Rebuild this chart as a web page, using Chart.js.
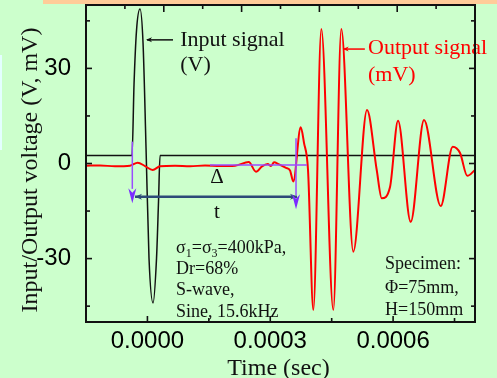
<!DOCTYPE html>
<html>
<head>
<meta charset="utf-8">
<script src="https://cdn.jsdelivr.net/npm/chart.js@4.4.1/dist/chart.umd.min.js"></script>
<style>
html, body { margin: 0; padding: 0; background: #ccffcc; }
</style>
</head>
<body>
<canvas id="sig" width="497" height="378"></canvas>
<script>
// input signal (V), time in sec
var inputTime = [-0.00015, -0.0000376, -0.0000327, -0.0000266, -0.0000181, -0.0000107, -0.0000034,
                 0.0000039, 0.0000137, 0.0000222, 0.0000271, 0.0000308, 0.0008];
var inputVolt = [2.5, 2.5, 25, 42, 48.7, 38, 5, -30, -44, -30, -12, 2.5, 2.5];

// output signal (mV)
var outputTime = [-0.00015, -0.0001158, -0.0000791, -0.0000425, -0.0000237, -0.0000059, 0.0000129,
                  0.0000308, 0.0000674, 0.000104, 0.0001407, 0.0001773, 0.0002139, 0.0002474,
                  0.0002652, 0.0002799, 0.0002938, 0.0003018, 0.0003092, 0.0003214, 0.0003385,
                  0.0003483, 0.0003563, 0.0003744, 0.0003824, 0.0003922, 0.0004052, 0.0004247,
                  0.000454, 0.0004735, 0.0005028, 0.0005363, 0.00056, 0.0005722, 0.0005925,
                  0.000612, 0.000643, 0.0006755, 0.0007163, 0.0007456, 0.0007635, 0.0007812, 0.0008];
var outputVolt = [-0.7, -0.6, -0.9, -0.7, 0.25, -0.8, -2.05,
                  -0.9, -0.7, -0.9, -0.6, -0.8, -0.7, 0.47,
                  -2.6, -0.9, -0.16, -0.8, 0.4, -0.3, -1.4,
                  -2.2, -5.7, 11.4, 6.5, -2, -46.2, 42.4,
                  -46.2, 42.4, -27.8, 16.9, -2.05, -11, -7.4,
                  13.5, -18.4, 13.7, -13.4, 5.3, 3.3, -3.9, -2.05];

// ticks
var xTickVals = [0, 0.00015, 0.0003, 0.00045, 0.0006, 0.00075];
var xTickText = ['0.0000', '', '0.0003', '', '0.0006', ''];
var yTickVals = [-45, -30, -15, 0, 15, 30, 45];
var yTickText = ['', '-30', '', '0', '', '30', ''];
var topTickVals = [1, 2, 3, 4, 5, 6, 7, 8, 9];

function pairs(xs, ys) {
  return xs.map(function (x, i) { return { x: x, y: ys[i] }; });
}

function line(c, x1, y1, x2, y2) {
  c.beginPath(); c.moveTo(x1, y1); c.lineTo(x2, y2); c.stroke();
}

function head(c, x, y, dx, dy, len, half) {
  // tip at x,y pointing along dx,dy
  c.beginPath();
  c.moveTo(x, y);
  c.lineTo(x - dx * len - dy * half, y - dy * len + dx * half);
  c.lineTo(x - dx * len * 0.7, y - dy * len * 0.7);
  c.lineTo(x - dx * len + dy * half, y - dy * len - dx * half);
  c.closePath();
  c.fill();
}

function rich(c, x, y, parts, size) {
  parts.forEach(function (p) {
    if (p[1]) {
      c.font = Math.round(size * 0.65) + 'px "Liberation Serif"';
      c.fillText(p[0], x, y + 4);
    } else {
      c.font = size + 'px "Liberation Serif"';
      c.fillText(p[0], x, y);
    }
    x += c.measureText(p[0]).width;
  });
}

function noPad(s) {
  s.paddingTop = 0; s.paddingBottom = 0; s.paddingLeft = 0; s.paddingRight = 0;
}

var frame = {
  id: 'frame',
  beforeDraw: function (chart) {
    var c = chart.ctx;
    c.save();
    c.fillStyle = '#ccffcc';
    c.fillRect(0, 0, chart.width, chart.height);
    c.fillStyle = '#ffcc99';
    c.fillRect(43, 0, chart.width - 43, 4);
    c.fillStyle = '#e4ffff';
    c.fillRect(0, 55, 2, 95);
    c.restore();
  },
  afterDatasetsDraw: function (chart) {
    var c = chart.ctx, a = chart.chartArea;
    var sx = chart.scales.x, sy = chart.scales.y, st = chart.scales.x2;
    function X(t) { return sx.getPixelForValue(t); }
    function Y(v) { return sy.getPixelForValue(v); }
    c.save();

    // time delay markers
    c.strokeStyle = '#2d4b78'; c.fillStyle = '#2d4b78'; c.lineWidth = 2.5;
    line(c, X(-0.0000303), Y(-10.5), X(0.0003653), Y(-10.5));
    head(c, X(-0.0000303), Y(-10.5), -1, 0, 7, 3);
    head(c, X(0.0003653), Y(-10.5), 1, 0, 7, 3);

    c.strokeStyle = '#9a4dff'; c.fillStyle = '#7b2cff'; c.lineWidth = 1.5;
    line(c, X(0.0001529), Y(-0.5), X(0.0003895), Y(-0.5));
    line(c, X(-0.0000369), Y(6.9), X(-0.0000369), Y(-8));
    head(c, X(-0.0000369), Y(-12.5), 0, 1, 15, 4);
    line(c, X(0.0003629), Y(8), X(0.0003629), Y(-10));
    head(c, X(0.0003629), Y(-14.4), 0, 1, 15, 4);

    c.fillStyle = '#111';
    c.textAlign = 'center'; c.textBaseline = 'alphabetic';
    c.font = '21px "Liberation Serif"';
    c.fillText('\u0394', X(0.0001699), Y(-6.0));
    c.fillText('t', X(0.0001699), Y(-17.2));

    // signal labels
    c.textAlign = 'left';
    c.strokeStyle = '#111'; c.fillStyle = '#111'; c.lineWidth = 1.5;
    line(c, X(0.0000625), Y(39), X(-0.000001), Y(39));
    head(c, X(-0.0000034), Y(39), -1, 0, 6, 2.5);
    c.font = '22px "Liberation Serif"';
    c.fillText('Input signal', X(0.00008), Y(37.1));
    c.fillText('(V)', X(0.00008), Y(29.1));

    c.strokeStyle = '#ff0000'; c.fillStyle = '#ff0000';
    line(c, X(0.000531), Y(36.1), X(0.00048), Y(36.1));
    head(c, X(0.000477), Y(36.1), -1, 0, 6, 2.5);
    c.fillText('Output signal', X(0.0005387), Y(34.5));
    c.fillText('(mV)', X(0.0005387), Y(26.0));

    // test conditions
    c.fillStyle = '#111';
    rich(c, X(0.0000699), Y(-28.2), [['\u03c3', 0], ['1', 1], ['=\u03c3', 0], ['3', 1], ['=400kPa,', 0]], 18);
    c.font = '18px "Liberation Serif"';
    c.fillText('Dr=68%', X(0.0000699), Y(-34.9));
    c.fillText('S-wave,', X(0.0000699), Y(-41.5));
    c.fillText('Sine, 15.6kHz', X(0.0000699), Y(-48.4));
    c.fillText('Specimen:', X(0.0005802), Y(-33.3));
    c.fillText('\u03a6=75mm,', X(0.0005802), Y(-40.9));
    c.fillText('H=150mm', X(0.0005802), Y(-47.8));

    // inward ticks
    c.strokeStyle = '#111'; c.lineWidth = 1.6;
    sx.ticks.forEach(function (t) {
      var p = X(t.value), len = t.label ? 6 : 4;
      line(c, p, a.bottom, p, a.bottom - len);
    });
    sy.ticks.forEach(function (t) {
      var p = Y(t.value), len = t.label ? 6 : 4;
      line(c, a.left, p, a.left + len, p);
      line(c, a.right, p, a.right - len, p);
    });
    st.ticks.forEach(function (t) {
      var p = st.getPixelForValue(t.value), len = t.value % 2 === 0 ? 7 : 4;
      line(c, p, a.top, p, a.top + len);
    });

    // frame
    c.lineWidth = 2;
    c.strokeRect(a.left, a.top, a.right - a.left, a.bottom - a.top);

    // axis titles
    c.fillStyle = '#111';
    c.font = '24px "Liberation Serif"';
    c.textAlign = 'center'; c.textBaseline = 'alphabetic';
    c.fillText('Time (sec)', (a.left + a.right) / 2 - 2, 375);
    c.translate(37, 170);
    c.rotate(-Math.PI / 2);
    c.fillText('Input/Output voltage (V, mV)', 0, 0);
    c.restore();
  }
};

new Chart(document.getElementById('sig'), {
  type: 'line',
  data: {
    datasets: [
      {
        label: 'Output signal (mV)',
        data: pairs(outputTime, outputVolt),
        xAxisID: 'x', yAxisID: 'y',
        borderColor: '#ff0000', borderWidth: 2,
        pointRadius: 0, fill: false,
        cubicInterpolationMode: 'monotone'
      },
      {
        label: 'Input signal (V)',
        data: pairs(inputTime, inputVolt),
        xAxisID: 'x', yAxisID: 'y',
        borderColor: '#111', borderWidth: 1.5,
        pointRadius: 0, fill: false,
        cubicInterpolationMode: 'monotone'
      }
    ]
  },
  options: {
    responsive: false,
    animation: false,
    devicePixelRatio: 1,
    layout: { padding: { top: 5, right: 22, left: 0, bottom: 0 } },
    plugins: { legend: { display: false }, tooltip: { enabled: false } },
    scales: {
      x: {
        type: 'linear', position: 'bottom',
        min: -0.00015, max: 0.0008,
        afterBuildTicks: function (s) { s.ticks = xTickVals.map(function (v) { return { value: v }; }); },
        afterFit: function (s) { s.height = 56; noPad(s); },
        grid: { display: false }, border: { display: false },
        ticks: {
          autoSkip: false, maxRotation: 0, padding: -3, color: '#000',
          font: { family: 'Liberation Sans', size: 24 },
          callback: function (v, i) { return xTickText[i]; }
        }
      },
      x2: {
        type: 'linear', position: 'top',
        min: 0, max: 10,
        afterBuildTicks: function (s) { s.ticks = topTickVals.map(function (v) { return { value: v }; }); },
        afterFit: function (s) { s.height = 0; noPad(s); },
        grid: { display: false }, border: { display: false },
        ticks: { display: false }
      },
      y: {
        type: 'linear', position: 'left',
        min: -50, max: 50,
        afterBuildTicks: function (s) { s.ticks = yTickVals.map(function (v) { return { value: v }; }); },
        afterFit: function (s) { s.width = 86; noPad(s); },
        grid: { display: false }, border: { display: false },
        ticks: {
          autoSkip: false, padding: 7, color: '#000',
          font: { family: 'Liberation Sans', size: 24 },
          callback: function (v, i) { return yTickText[i]; }
        }
      }
    }
  },
  plugins: [frame]
});
</script>
</body>
</html>
